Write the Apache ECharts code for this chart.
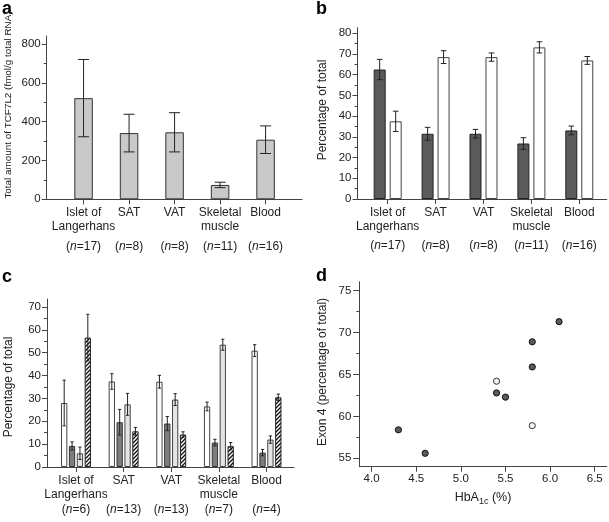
<!DOCTYPE html>
<html><head><meta charset="utf-8">
<script src="https://cdn.jsdelivr.net/npm/echarts@6/dist/echarts.min.js"></script>
<style>html,body{margin:0;padding:0;background:#fff}#c{width:609px;height:522px}</style>
</head><body><div id="c"></div><script>
// ---------- data ----------
const categoryLabels = ['Islet of\nLangerhans', 'SAT', 'VAT', 'Skeletal\nmuscle', 'Blood'];
const nA = [17, 8, 8, 11, 16];
const nB = [17, 8, 8, 11, 16];
const nC = [6, 13, 13, 7, 4];

const aTotal = [521, 341, 345, 74, 307];
const aErr = [199, 97, 101, 14, 71];

const bDark = [62.5, 31.5, 31.5, 26.8, 33.1];
const bDarkErr = [4.9, 3.1, 2.1, 2.8, 2.1];
const bWhite = [37.5, 68.5, 68.5, 73.2, 66.9];
const bWhiteErr = [4.9, 3.1, 2.0, 2.7, 1.9];

const cWhite = [28.0, 37.4, 37.3, 26.5, 50.9];
const cWhiteErr = [10.0, 3.4, 2.8, 1.9, 2.6];
const cDark = [9.2, 19.6, 19.0, 10.7, 6.3];
const cDarkErr = [1.8, 5.6, 3.1, 1.4, 1.4];
const cLight = [6.0, 27.4, 29.5, 53.5, 12.0];
const cLightErr = [2.7, 4.8, 2.6, 2.4, 1.6];
const cHatch = [56.6, 15.6, 14.2, 9.1, 30.5];
const cHatchErr = [10.2, 1.7, 1.2, 1.6, 1.4];

const dHbA1c = [4.3, 4.6, 5.4, 5.5, 5.8, 5.8, 6.1];
const dExon4 = [58.4, 55.6, 62.8, 62.3, 68.9, 65.9, 71.3];
const dOpenHbA1c = [5.4, 5.8];
const dOpenExon4 = [64.2, 58.9];

const catTicks = [0, 1, 2, 3, 4];
const aYTicks = [0, 200, 400, 600, 800];
const aYMinor = [100, 300, 500, 700];
const bYTicks = [0, 10, 20, 30, 40, 50, 60, 70, 80];
const bYMinor = [5, 15, 25, 35, 45, 55, 65, 75];
const cYTicks = [0, 10, 20, 30, 40, 50, 60, 70];
const cYMinor = [5, 15, 25, 35, 45, 55, 65];
const dYTicks = [55, 60, 65, 70, 75];
const dYMinor = [57.5, 62.5, 67.5, 72.5];
const dXTicks = [4.0, 4.5, 5.0, 5.5, 6.0, 6.5];

// ---------- styles ----------
const FONT = '"Liberation Sans", Arial, Helvetica, sans-serif';
const AX = '#444';
const TX = '#222';
const TICKFS = 11.5;

const hatch = document.createElement('canvas');
hatch.width = 4; hatch.height = 4;
(function () {
  const g = hatch.getContext('2d');
  g.fillStyle = '#fff'; g.fillRect(0, 0, 4, 4);
  g.strokeStyle = '#111'; g.lineWidth = 1.3;
  g.beginPath();
  g.moveTo(0, 4); g.lineTo(4, 0);
  g.moveTo(-1, 1); g.lineTo(1, -1);
  g.moveTo(3, 5); g.lineTo(5, 3);
  g.stroke();
})();

function catAxis(gi, min, max) {
  return {
    type: 'value', gridIndex: gi, min: min, max: max, position: 'bottom',
    axisLine: { show: true, onZero: false, lineStyle: { color: AX, width: 1 } },
    axisTick: { show: true, customValues: catTicks, length: 5, lineStyle: { color: AX } },
    axisLabel: { customValues: catTicks, formatter: v => categoryLabels[Math.round(v)],
      fontSize: 12, lineHeight: 13.7, color: TX, fontFamily: FONT, margin: 7 },
    splitLine: { show: false }
  };
}
function nAxis(gi, min, max, ns, margin) {
  return {
    type: 'value', gridIndex: gi, min: min, max: max, position: 'bottom',
    axisLine: { show: false, onZero: false }, axisTick: { show: false }, splitLine: { show: false },
    axisLabel: { customValues: catTicks, margin: margin,
      formatter: v => '({i|n}=' + ns[Math.round(v)] + ')',
      fontSize: 12, color: TX, fontFamily: FONT,
      rich: { i: { fontStyle: 'italic', fontSize: 12, color: TX, fontFamily: FONT } } }
  };
}
function yMain(gi, min, max, ticks, fmt, margin, tlen) {
  return {
    type: 'value', gridIndex: gi, min: min, max: max, position: 'left',
    axisLine: { show: true, onZero: false, lineStyle: { color: AX, width: 1 } },
    axisTick: { show: true, customValues: ticks, length: tlen || 5, lineStyle: { color: AX } },
    axisLabel: { customValues: ticks, formatter: fmt || (v => String(v)), margin: margin || 6,
      fontSize: TICKFS, color: TX, fontFamily: FONT },
    splitLine: { show: false }
  };
}
function yMinor(gi, min, max, ticks) {
  return {
    type: 'value', gridIndex: gi, min: min, max: max, position: 'left', offset: 0,
    axisLine: { show: false, onZero: false },
    axisTick: { show: true, customValues: ticks, length: 3, lineStyle: { color: AX } },
    axisLabel: { show: false }, splitLine: { show: false }
  };
}
function barSeries(xi, yi, vals, w, gap, fill, border) {
  return {
    type: 'bar', xAxisIndex: xi, yAxisIndex: yi, barWidth: w, barGap: gap,
    data: vals.map((v, i) => [i, v]),
    itemStyle: { color: fill, borderColor: border || '#333', borderWidth: 1 },
    silent: true
  };
}
function errSeries(xi, yi, vals, errs, offset, cap) {
  return {
    type: 'custom', xAxisIndex: xi, yAxisIndex: yi, z: 5, silent: true,
    data: vals.map((v, i) => [i, v, errs[i]]),
    encode: { x: 0, y: 1 },
    renderItem: function (p, api) {
      const x = api.value(0), y = api.value(1), e = api.value(2);
      const hi = api.coord([x, y + e]), lo = api.coord([x, y - e]);
      const cx = hi[0] + offset;
      const st = { stroke: '#222', lineWidth: 1 };
      return { type: 'group', children: [
        { type: 'line', shape: { x1: cx, y1: hi[1], x2: cx, y2: lo[1] }, style: st },
        { type: 'line', shape: { x1: cx - cap, y1: hi[1], x2: cx + cap, y2: hi[1] }, style: st },
        { type: 'line', shape: { x1: cx - cap, y1: lo[1], x2: cx + cap, y2: lo[1] }, style: st }
      ] };
    }
  };
}
function label(txt, x, y) {
  return { type: 'text', x: x, y: y, style: { text: txt, fontSize: 18, fontWeight: 'bold',
    fontFamily: FONT, fill: '#000', align: 'left', verticalAlign: 'middle' } };
}
function vTitle(txt, x, y, fs) {
  return { type: 'text', x: x, y: y, rotation: Math.PI / 2, style: { text: txt, fontSize: fs,
    fontFamily: FONT, fill: TX, align: 'center', verticalAlign: 'middle' } };
}

// panel geometry
const A = { min: -0.81, max: 4.8 };
const B = { min: -0.63, max: 4.572 };
const C = { min: -0.609, max: 4.578 };
const cW = 6.3, cGap = '25%', cStride = cW * 1.25;

const option = {
  animation: false,
  backgroundColor: '#fff',
  grid: [
    { left: 46.7, top: 36, width: 255.3, height: 163.3, outerBoundsMode: 'none' },
    { left: 357.5, top: 27.7, width: 249.2, height: 171.3, outerBoundsMode: 'none' },
    { left: 47, top: 299, width: 247, height: 168, outerBoundsMode: 'none' },
    { left: 359.3, top: 281.7, width: 247.4, height: 185, outerBoundsMode: 'none' }
  ],
  xAxis: [
    catAxis(0, A.min, A.max),
    nAxis(0, A.min, A.max, nA, 41),
    catAxis(1, B.min, B.max),
    nAxis(1, B.min, B.max, nB, 41),
    catAxis(2, C.min, C.max),
    nAxis(2, C.min, C.max, nC, 36.5),
    {
      type: 'value', gridIndex: 3, min: 3.862, max: 6.634, position: 'bottom',
      axisLine: { show: true, onZero: false, lineStyle: { color: AX, width: 1 } },
      axisTick: { show: true, customValues: dXTicks, length: 5, lineStyle: { color: AX } },
      axisLabel: { customValues: dXTicks, formatter: v => v.toFixed(1), margin: 6,
        fontSize: TICKFS, color: TX, fontFamily: FONT },
      splitLine: { show: false },
      name: '{a|HbA}{s|1c}{a| (%)}', nameLocation: 'middle', nameGap: 23,
      nameTextStyle: { color: TX, fontFamily: FONT, fontSize: 12.5,
        rich: { a: { fontSize: 12.5, color: TX, fontFamily: FONT },
                s: { fontSize: 9, color: TX, fontFamily: FONT, padding: [7, 0, 0, 0] } } }
    }
  ],
  yAxis: [
    yMain(0, 0, 841, aYTicks),
    yMinor(0, 0, 841, aYMinor),
    yMain(1, 0, 82.7, bYTicks),
    yMinor(1, 0, 82.7, bYMinor),
    yMain(2, 0, 73.5, cYTicks),
    yMinor(2, 0, 73.5, cYMinor),
    yMain(3, 54.0, 76.07, dYTicks, null, 8, 6),
    yMinor(3, 54.0, 76.07, dYMinor)
  ],
  series: [
    barSeries(0, 0, aTotal, 18.5, '0%', '#c9c9c9', '#333'),
    errSeries(0, 0, aTotal, aErr, 0, 5.5),

    barSeries(2, 2, bDark, 12, '33.3%', '#5a5a5a', '#222'),
    barSeries(2, 2, bWhite, 12, '33.3%', '#ffffff', '#444'),
    errSeries(2, 2, bDark, bDarkErr, -8, 2.8),
    errSeries(2, 2, bWhite, bWhiteErr, 8, 2.8),

    barSeries(4, 4, cWhite, cW, cGap, '#ffffff', '#444'),
    barSeries(4, 4, cDark, cW, cGap, '#7e7e7e', '#333'),
    barSeries(4, 4, cLight, cW, cGap, '#e4e4e4', '#444'),
    barSeries(4, 4, cHatch, cW, cGap, { image: hatch, repeat: 'repeat' }, '#222'),
    errSeries(4, 4, cWhite, cWhiteErr, -1.5 * cStride, 1.6),
    errSeries(4, 4, cDark, cDarkErr, -0.5 * cStride, 1.6),
    errSeries(4, 4, cLight, cLightErr, 0.5 * cStride, 1.6),
    errSeries(4, 4, cHatch, cHatchErr, 1.5 * cStride, 1.6),

    {
      type: 'scatter', xAxisIndex: 6, yAxisIndex: 6, symbolSize: 6.2, silent: true,
      data: dHbA1c.map((v, i) => [v, dExon4[i]]),
      itemStyle: { color: '#5a5a5a', borderColor: '#111', borderWidth: 1, opacity: 1 }
    },
    {
      type: 'scatter', xAxisIndex: 6, yAxisIndex: 6, symbolSize: 6.2, silent: true,
      data: dOpenHbA1c.map((v, i) => [v, dOpenExon4[i]]),
      itemStyle: { color: '#f2f2f2', borderColor: '#333', borderWidth: 1, opacity: 1 }
    }
  ],
  graphic: [
    label('a', 2, 9.5),
    label('b', 316, 9.5),
    label('c', 2, 277.5),
    label('d', 316, 276),
    vTitle('Total amount of TCF7L2 (fmol/g total RNA)', 8, 105, 9.9),
    vTitle('Percentage of total', 323, 110, 12),
    vTitle('Percentage of total', 8.5, 387, 12),
    vTitle('Exon 4 (percentage of total)', 323, 372, 12)
  ]
};
const chart = echarts.init(document.getElementById('c'), null, { renderer: 'canvas' });
chart.setOption(option);
</script></body></html>
